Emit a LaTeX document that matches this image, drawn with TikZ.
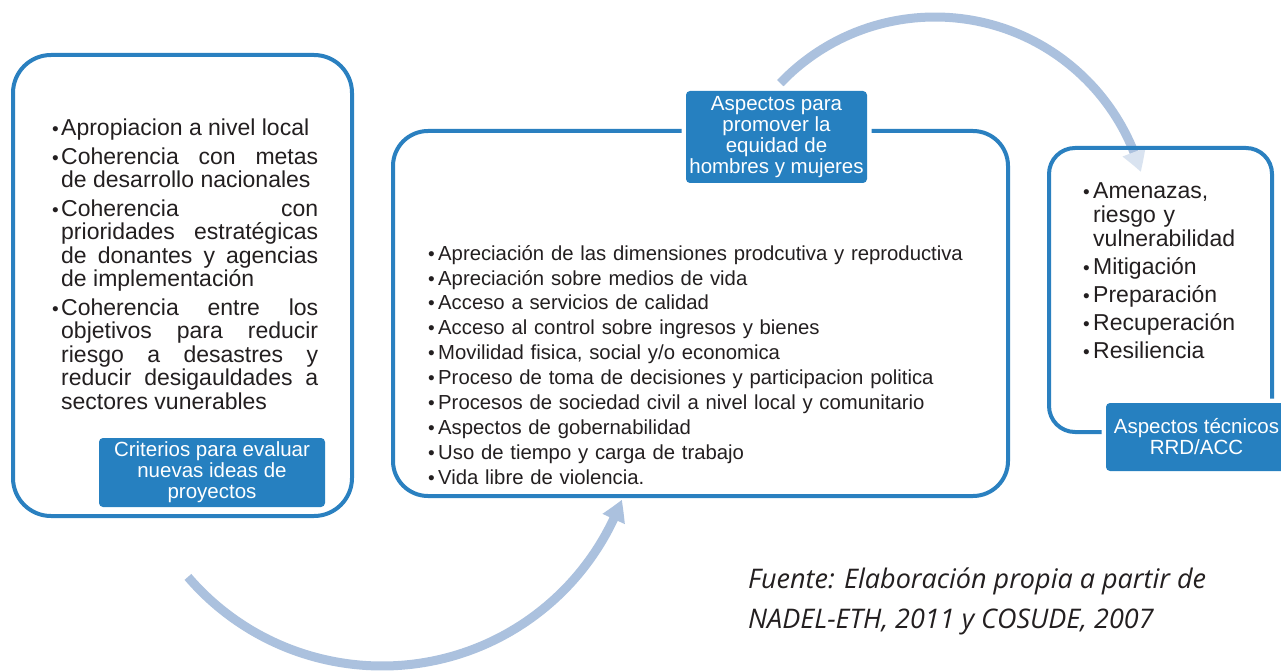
\documentclass[tikz,border=0pt]{standalone}
\usepackage{fontspec}
\setmainfont{Liberation Sans}
\newfontfamily\footfont{Open Sans}
\usetikzlibrary{arrows.meta,bending,calc}
\definecolor{frameblue}{RGB}{42,128,192}
\definecolor{labblue}{RGB}{38,128,192}
\definecolor{arcblue}{RGB}{171,193,222}
\definecolor{txt}{RGB}{35,31,32}
\hbadness=10000 \vbadness=10000
\newcommand\bul{{\fontsize{19}{19}\selectfont\textbullet}}
\newcommand\bitem[2]{\par\hangindent=#1\hangafter=1\noindent\makebox[#1][l]{\bul}#2\par}
\begin{document}
\begin{tikzpicture}[x=1pt,y=-1pt,
  frame/.style={draw=frameblue,line width=4pt,inner sep=0pt},
  lab/.style={fill=labblue,text=white,rounded corners=4pt,inner sep=0pt,align=center,
    font=\fontsize{20.5}{21}\selectfont,preaction={draw=white,line width=9pt}},
  cyc/.style={draw=arcblue,line width=9pt},
  body/.style={inner sep=0pt,text=txt,anchor=north west},
]
\useasboundingbox[fill=white] (0,0) rectangle (1281,671);

% cycle arrows
\coordinate (cb) at (382,410);
\coordinate (ct) at (935,231);
\draw[cyc,-{Triangle[length=21pt,width=23pt,bend]}] ($(cb)+(139.3:256)$) arc[start angle=139.3,end angle=20.5,radius=256];
\draw[cyc,-{Triangle[length=21pt,width=23pt,bend,color=arcblue!45]}] ($(ct)+(223.7:214)$) arc[start angle=223.7,end angle=344,radius=214];

% frames
\node[frame,rounded corners=38pt,minimum width=339pt,minimum height=461pt] (f1) at (182.5,285.5) {};
\node[frame,rounded corners=35pt,minimum width=615pt,minimum height=365pt] (f2) at (700.5,313.5) {};
\node[frame,rounded corners=26pt,minimum width=223pt,minimum height=284pt] (f3) at (1160.5,290) {};

% labels
\node[lab,minimum width=226pt,minimum height=69pt] (l1) at (212,472.5) {Criterios para evaluar\\nuevas ideas de\\proyectos};
\node[lab,minimum width=181pt,minimum height=92pt] (l2) at (776.5,137) {Aspectos para\\promover la\\equidad de\\hombres y mujeres};
\node[lab,minimum width=181pt,minimum height=68pt] (l3) at (1196.5,437) {Aspectos técnicos\\RRD/ACC};

% texts
\node[body,text width=266pt,align=justify,font=\fontsize{23}{23.5}\selectfont] (t1) at (52,107) {%
\setlength\parskip{5pt}%
\bitem{9pt}{Apropiacion a nivel local}
\bitem{9pt}{Coherencia con metas\linebreak de desarrollo nacionales}
\bitem{9pt}{Coherencia con\linebreak prioridades estratégicas\linebreak de donantes y agencias\linebreak de implementación}
\bitem{9pt}{Coherencia entre los\linebreak objetivos para reducir\linebreak riesgo a desastres y\linebreak reducir desigauldades a\linebreak sectores vunerables}};

\node[body,text width=570pt,align=left,font=\fontsize{20.3}{24.9}\selectfont] (t2) at (428,235) {%
\bitem{10pt}{Apreciación de las dimensiones prodcutiva y reproductiva}
\bitem{10pt}{Apreciación sobre medios de vida}
\bitem{10pt}{Acceso a servicios de calidad}
\bitem{10pt}{Acceso al control sobre ingresos y bienes}
\bitem{10pt}{Movilidad fisica, social y/o economica}
\bitem{10pt}{Proceso de toma de decisiones y participacion politica}
\bitem{10pt}{Procesos de sociedad civil a nivel local y comunitario}
\bitem{10pt}{Aspectos de gobernabilidad}
\bitem{10pt}{Uso de tiempo y carga de trabajo}
\bitem{10pt}{Vida libre de violencia.}};

\node[body,text width=185pt,align=left,font=\fontsize{23}{24}\selectfont] (t3) at (1083,170) {%
\setlength\parskip{4pt}%
\bitem{10pt}{Amenazas,\break riesgo y\break vulnerabilidad}
\bitem{10pt}{Mitigación}
\bitem{10pt}{Preparación}
\bitem{10pt}{Recuperación}
\bitem{10pt}{Resiliencia}};

% source
\node[body,align=left,font=\footfont\itshape\fontsize{27}{40}\selectfont] (src) at (748,568) {Fuente: Elaboración propia a partir de\\NADEL-ETH, 2011 y COSUDE, 2007};
\end{tikzpicture}
\end{document}
